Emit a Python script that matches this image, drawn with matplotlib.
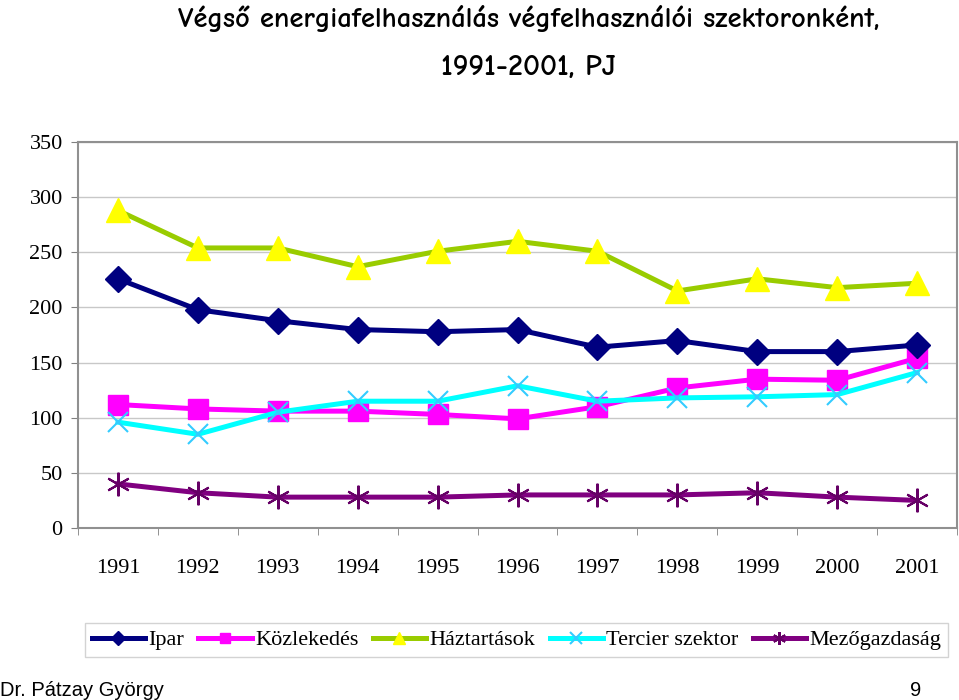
import matplotlib.pyplot as plt
from matplotlib.lines import Line2D
import numpy as np

years = ['1991', '1992', '1993', '1994', '1995', '1996', '1997', '1998', '1999', '2000', '2001']
ipar = [226, 198, 188, 180, 178, 180, 164, 170, 160, 160, 166]
kozlekedes = [112, 108, 106, 106, 103, 99, 110, 127, 135, 134, 154]
haztartasok = [288, 254, 254, 237, 251, 260, 251, 215, 226, 218, 222]
tercier = [96, 85, 105, 115, 115, 129, 115, 118, 119, 121, 141]
mezogazdasag = [40, 32, 28, 28, 28, 30, 30, 30, 32, 28, 25]

serif = ['Liberation Serif', 'DejaVu Serif']

fig = plt.figure(figsize=(9.59, 7), dpi=100)
ax = fig.add_axes([0.0813, 0.2457, 0.9167, 0.5513])

x = np.arange(len(years))
lw = 3.6
lines = []
lines += ax.plot(x, ipar, color='#000080', lw=lw, marker='D', ms=13, mfc='#000080', mec='#000080', label='Ipar', zorder=5)
lines += ax.plot(x, kozlekedes, color='#FF00FF', lw=lw, marker='s', ms=14, mfc='#FF00FF', mec='#FF00FF', label='Közlekedés', zorder=4)
lines += ax.plot(x, haztartasok, color='#99CC00', lw=lw, marker='^', ms=17, mfc='#FFFF00', mec='#FFFF00', label='Háztartások', zorder=5)
lines += ax.plot(x, tercier, color='#00FFFF', lw=lw, marker='x', ms=15, mew=1.5, mec='#33CCFF', label='Tercier szektor', zorder=4)
lines += ax.plot(x, mezogazdasag, color='#800080', lw=lw, marker=(6, 2, 0), ms=17, mew=1.5, mec='#660066', label='Mezőgazdaság', zorder=5)

ax.set_xlim(-0.5, len(years) - 0.5)
ax.set_ylim(0, 350)
ax.set_yticks(range(0, 351, 50))
ax.set_xticks(x)
ax.set_xticklabels(years)
ax.set_xticks(np.arange(-0.5, len(years), 1), minor=True)
ax.tick_params(axis='x', which='major', length=0, pad=22)
ax.tick_params(axis='x', which='minor', length=5, color='#808080', direction='out')
ax.tick_params(axis='y', length=5, color='#808080', direction='out', pad=6)
for lab in ax.get_xticklabels() + ax.get_yticklabels():
    lab.set_family(serif)
    lab.set_fontsize(16)

ax.grid(axis='y', color='#C8C8C8', lw=1)
ax.set_axisbelow(True)
for s in ax.spines.values():
    s.set_color('#909090')
    s.set_linewidth(1.5)

# smaller markers in the legend keys
handles = []
for ln in lines:
    h = Line2D([], [])
    h.update_from(ln)
    h.set_markersize(ln.get_markersize() * 0.55)
    h.set_label(ln.get_label())
    handles.append(h)

leg = fig.legend(handles=handles, loc='lower left',
                 bbox_to_anchor=(85 / 959, 43 / 700, 863 / 959, 43 / 700),
                 mode='expand', ncol=5, prop={'family': serif, 'size': 16}, frameon=True,
                 fancybox=False, handlelength=2.4, handletextpad=0.15, columnspacing=0.5,
                 borderpad=0.3, borderaxespad=0)
leg.get_frame().set_edgecolor('#C8C8C8')
leg.get_frame().set_linewidth(1)

title_font = ['Comic Neue', 'Liberation Sans Narrow', 'DejaVu Sans']
fig.text(0.551, 0.974, 'Végső energiafelhasználás végfelhasználói szektoronként,',
         ha='center', va='center', fontsize=20.5, fontweight='bold', family=title_font)
fig.text(0.551, 0.904, '1991-2001, PJ', ha='center', va='center', fontsize=21.5,
         fontweight='bold', family=title_font)

fig.text(0.0, 0.014, 'Dr. Pátzay György', ha='left', va='center', fontsize=14.5,
         family=['Liberation Sans', 'DejaVu Sans'])
fig.text(0.955, 0.014, '9', ha='center', va='center', fontsize=14.5,
         family=['Liberation Sans', 'DejaVu Sans'])

fig.savefig('out.png', dpi=100)
